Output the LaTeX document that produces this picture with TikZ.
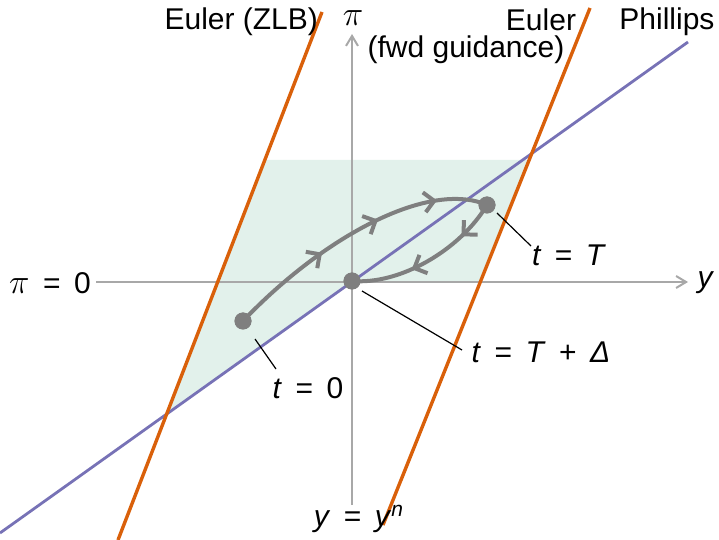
\documentclass[tikz,border=0pt]{standalone}
\usepackage{fontspec}
\setmainfont{Liberation Sans}
\usetikzlibrary{arrows.meta,decorations.markings,calc}
\definecolor{eulerorange}{HTML}{D9600A}
\definecolor{phillipsblue}{HTML}{7772B6}
\definecolor{zoneshade}{HTML}{E2F1EB}
\definecolor{axisgray}{HTML}{A8A8A8}
\definecolor{pathgray}{HTML}{7F7F7F}
\newcommand{\tvar}[1]{\textit{#1}}
\newcommand{\eqsp}{\hspace{0.45em}}
\newcommand{\bigpi}{{\fontsize{19}{20}\selectfont$\pi$}}

\begin{document}
\begin{tikzpicture}[x=0.5pt, y=-0.5pt,
    font=\fontsize{15}{18}\selectfont,
    axis/.style={line width=1pt, axisgray, -{Straight Barb[length=5pt, width=6pt]}},
    euler/.style={line width=1.7pt, eulerorange},
    phillips/.style={line width=1.4pt, phillipsblue},
    traj/.style={line width=2pt, pathgray},
    dot/.style={circle, fill=pathgray, inner sep=0pt, minimum size=8.5pt},
    leader/.style={line width=0.6pt, black}
]
    \useasboundingbox (0,0) rectangle (719,540);

    % Shaded region
    \fill[zoneshade] (167,413) -- (265,160) -- (529,160) -- (480,282) -- (352,282) -- cycle;

    % Axes
    \draw[axis] (96,282) -- (688,282);
    \draw[axis] (352,505) -- (352,34);

    % Euler and Phillips lines
    \draw[phillips] (0,533) -- (688,42);
    \draw[euler] (118,540) -- (322,12);
    \draw[euler] (383,525) -- (590,8);

    % Points
    \node[dot] (t0) at (243,321) {};
    \node[dot] (tD) at (352,281) {};
    \node[dot] (tT) at (487,205) {};

    % Trajectory
    \draw[traj, decoration={markings,
        mark=at position 0.37 with {\arrow{Straight Barb[length=5pt, width=10pt, line width=2pt]}},
        mark=at position 0.6 with {\arrow{Straight Barb[length=5pt, width=10pt, line width=2pt]}},
        mark=at position 0.82 with {\arrow{Straight Barb[length=5pt, width=10pt, line width=2pt]}}},
        postaction={decorate}]
        (t0.center) .. controls (325,235) and (430,180) .. (tT.center);
    \draw[traj, decoration={markings,
        mark=at position 0.25 with {\arrow{Straight Barb[length=5pt, width=10pt, line width=2pt]}},
        mark=at position 0.62 with {\arrow{Straight Barb[length=5pt, width=10pt, line width=2pt]}}},
        postaction={decorate}]
        (tT.center) .. controls (460,250) and (400,285) .. (tD.center);
    \node[dot] at (t0) {};
    \node[dot] at (tD) {};
    \node[dot] at (tT) {};

    % Leaders
    \coordinate (lead0) at (276,369);
    \coordinate (leadD) at (462,350);
    \coordinate (leadT) at (531,246);
    \draw[leader] (t0) ++(12,18) -- (lead0);
    \draw[leader] (tD) ++(10,10) -- (leadD);
    \draw[leader] (tT) ++(10,8) -- (leadT);

    % Labels
    \node[anchor=east] (zlb) at (325,22) {Euler (ZLB)};
    \node (piax) at (353,18) {\bigpi};
    \node (fwd) at (466,50) {(fwd guidance)};
    \node (eul) at (541,20) {Euler};
    \node (phil) at (667,22) {Phillips};
    \node (pizero) at (50,283) {\bigpi\eqsp=\eqsp0};
    \node (yax) at (706,283) {\tvar{y}};
    \node (yn) at (359,519) {\tvar{y}\eqsp=\eqsp\tvar{y}\textsuperscript{\tvar{n}}};
    \node (labT) at (569,255) {\tvar{t}\eqsp=\eqsp\tvar{T}};
    \node (labD) at (541,352) {\tvar{t}\eqsp=\eqsp\tvar{T}\eqsp+\eqsp\tvar{Δ}};
    \node (lab0) at (308,388) {\tvar{t}\eqsp=\eqsp0};
\end{tikzpicture}
\end{document}
